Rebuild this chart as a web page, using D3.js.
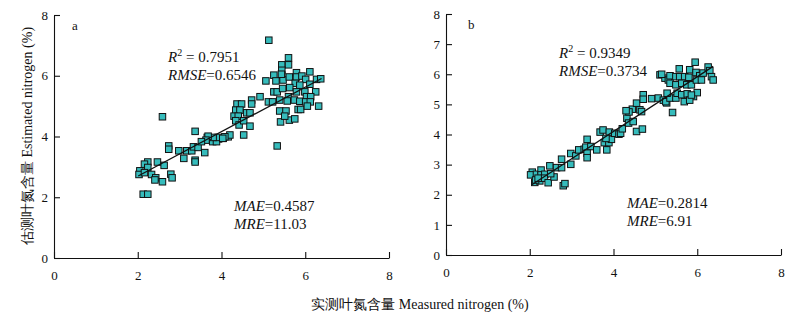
<!DOCTYPE html>
<html>
<head>
<meta charset="utf-8">
<script src="https://cdn.jsdelivr.net/npm/d3@7/dist/d3.min.js"></script>
<style>
  html, body { margin: 0; padding: 0; background: #fff; }
  svg { display: block; }
  text { font-family: "Liberation Serif", "Times New Roman", serif; fill: #111; }
</style>
</head>
<body>
<svg id="chart" width="794" height="322"></svg>
<script>
// Panel a: measured vs estimated leaf nitrogen (%)
const measuredA = [2.59,3.37,2.74,2.74,2.98,3.10,3.17,3.29,3.33,3.44,3.37,3.37,3.60,3.66,3.79,3.93,4.04,4.16,3.88,2.47,2.63,2.24,2.16,2.24,2.05,2.03,2.16,2.33,2.43,2.41,2.59,2.79,2.82,2.13,2.24,
  5.13,5.60,5.44,5.60,5.44,5.44,5.25,5.06,5.30,5.47,5.62,5.79,5.79,5.92,6.11,6.01,6.27,6.37,5.76,5.87,6.11,5.63,5.79,5.99,6.25,5.25,5.33,5.46,5.60,5.74,5.87,6.03,6.13,6.01,6.12,6.32,5.39,5.57,5.12,5.22,4.92,4.72,4.72,5.39,5.54,5.83,5.89,6.05,5.41,5.62,5.75,5.51,5.33,
  4.37,4.48,4.34,4.44,4.30,4.40,4.60,4.68,4.34,4.42,4.53,4.68,4.20,4.08,4.53,3.92,4.03,3.80,3.68,3.63,3.52,5.43];
const estimatedA = [4.65,4.17,3.69,3.58,3.53,3.28,3.53,3.53,3.66,3.64,3.22,3.16,3.47,3.97,3.83,3.92,3.94,3.99,3.83,3.16,3.05,3.16,3.09,2.98,2.87,2.75,2.81,2.75,2.64,2.57,2.51,2.76,2.64,2.10,2.10,
  7.17,6.59,6.36,6.36,6.18,6.02,6.02,5.83,5.83,5.86,5.96,6.10,5.96,5.99,6.13,5.88,5.88,5.90,5.75,5.69,5.72,5.61,5.47,5.47,5.47,5.47,5.47,5.58,5.31,5.20,5.16,5.31,5.31,5.14,5.14,5.00,5.20,5.17,5.14,5.14,5.31,5.20,5.07,4.84,4.84,4.89,4.89,5.00,4.48,4.54,4.58,4.67,3.69,
  5.07,5.07,4.87,4.87,4.67,4.67,4.78,4.78,4.52,4.38,4.52,4.34,4.05,3.99,4.05,3.97,3.94,3.97,4.01,3.88,3.83,6.05];

// Panel b: measured vs estimated leaf nitrogen (%)
const measuredB = [2.06,2.02,2.16,2.27,2.27,2.36,2.12,2.24,2.35,2.44,2.14,2.58,2.80,2.84,2.48,2.64,2.76,2.76,2.98,2.98,3.10,3.17,3.30,3.37,3.34,3.46,3.37,3.37,3.60,3.84,3.78,3.89,3.95,3.68,3.75,3.90,4.03,4.13,3.82,4.17,
  4.21,4.32,4.36,4.47,4.45,4.37,4.30,4.55,4.63,4.67,4.55,4.69,4.71,4.71,4.91,5.07,5.19,5.27,5.41,5.25,5.35,5.49,
  5.11,5.23,5.31,5.35,5.49,5.57,5.58,5.70,5.80,5.95,5.82,5.97,6.06,6.14,6.26,6.30,6.34,6.38,5.35,5.49,5.63,5.75,5.86,5.98,6.10,5.52,5.63,5.76,5.91,6.00,5.69,5.82,5.86,5.28,5.15,2.50,2.20];
const estimatedB = [2.75,2.66,2.68,2.82,2.66,2.68,2.41,2.46,2.55,2.40,2.49,2.59,2.30,2.37,2.96,2.90,2.90,3.18,3.37,3.01,3.29,3.49,3.51,3.84,3.58,3.60,3.38,3.23,3.49,3.49,3.73,3.73,3.84,4.08,4.15,4.08,4.04,4.01,3.87,4.04,
  4.19,4.54,4.38,4.43,4.84,4.75,4.79,5.04,4.82,4.76,4.10,4.18,5.32,5.17,5.19,5.21,5.14,5.05,4.73,5.09,5.21,5.21,
  5.98,5.87,5.81,5.95,5.92,6.18,5.92,5.92,5.90,6.40,6.15,6.06,5.95,6.04,6.24,6.12,5.92,5.81,5.70,5.65,5.70,5.65,5.65,5.81,5.81,5.37,5.32,5.35,5.26,5.39,5.09,5.14,5.31,5.37,6.00,2.70,2.55];

// Fitted line end points [x, y]
const fitA = [[2.01, 2.70], [6.39, 5.91]];
const fitB = [[2.05, 2.33], [6.38, 6.26]];

const yTicksA = [0, 2, 4, 6, 8];
const yTicksB = [0, 1, 2, 3, 4, 5, 6, 7, 8];
const xTicks = [0, 2, 4, 6, 8];

const statsA = [["R", "2", " = 0.7951"], ["RMSE", "", "=0.6546"], ["MAE", "", "=0.4587"], ["MRE", "", "=11.03"]];
const statsB = [["R", "2", " = 0.9349"], ["RMSE", "", "=0.3734"], ["MAE", "", "=0.2814"], ["MRE", "", "=6.91"]];

const svg = d3.select("#chart");

const panels = [
  { id: "a", xs: measuredA, ys: estimatedA, fit: fitA, yTicks: yTicksA, stats: statsA,
    xr: [54, 389], yr: [258, 15], label: [72, 30],
    statPos: [[168, 62], [168, 80], [234, 211], [234, 229]] },
  { id: "b", xs: measuredB, ys: estimatedB, fit: fitB, yTicks: yTicksB, stats: statsB,
    xr: [446, 781], yr: [255, 14], label: [468, 29],
    statPos: [[559, 58], [559, 76], [627, 208], [627, 226]] }
];

panels.forEach(p => {
  const x = d3.scaleLinear().domain([0, 8]).range(p.xr);
  const y = d3.scaleLinear().domain([0, 8]).range(p.yr);
  const g = svg.append("g");

  const xAxis = d3.axisBottom(x).tickValues(xTicks).tickFormat(d3.format("d"))
    .tickSizeInner(-6).tickSizeOuter(0).tickPadding(13);
  const yAxis = d3.axisLeft(y).tickValues(p.yTicks).tickFormat(d3.format("d"))
    .tickSizeInner(-6).tickSizeOuter(0).tickPadding(6);

  const gx = g.append("g").attr("transform", `translate(0,${p.yr[0]})`).call(xAxis);
  const gy = g.append("g").attr("transform", `translate(${p.xr[0]},0)`).call(yAxis);
  [gx, gy].forEach(a => {
    a.selectAll("path, line").attr("stroke", "#111").attr("stroke-width", 1.1);
    a.selectAll("text").style("font-family", "Liberation Serif").style("font-size", "13px").attr("fill", "#111");
  });

  const pts = p.xs.map((v, i) => [v, p.ys[i]]);
  const s = 6.5;
  g.append("g").selectAll("rect").data(pts).join("rect")
    .attr("x", d => x(d[0]) - s / 2)
    .attr("y", d => y(d[1]) - s / 2)
    .attr("width", s).attr("height", s)
    .attr("fill", "#36bcbc")
    .attr("stroke", "#111")
    .attr("stroke-width", 1);

  g.append("path")
    .datum(p.fit)
    .attr("d", d3.line().x(d => x(d[0])).y(d => y(d[1])))
    .attr("fill", "none")
    .attr("stroke", "#111")
    .attr("stroke-width", 1.3);

  g.append("text").attr("x", p.label[0]).attr("y", p.label[1])
    .style("font-size", "13px").text(p.id);

  p.stats.forEach((st, i) => {
    const t = g.append("text").attr("x", p.statPos[i][0]).attr("y", p.statPos[i][1])
      .style("font-size", "15px").attr("fill", "#222");
    t.append("tspan").style("font-style", "italic").text(st[0]);
    if (st[1]) {
      t.append("tspan").attr("dy", -6).style("font-size", "10px").text(st[1]);
      t.append("tspan").attr("dy", 6).text(st[2]);
    } else {
      t.append("tspan").text(st[2]);
    }
  });
});

// Shared axis titles
svg.append("text")
  .attr("transform", "translate(32,136) rotate(-90)")
  .attr("text-anchor", "middle")
  .style("font-size", "14px")
  .attr("fill", "#333")
  .text("估测叶氮含量 Estimated nitrogen (%)");

svg.append("text")
  .attr("x", 420).attr("y", 309)
  .attr("text-anchor", "middle")
  .style("font-size", "14px")
  .attr("fill", "#333")
  .text("实测叶氮含量 Measured nitrogen (%)");
</script>
</body>
</html>
